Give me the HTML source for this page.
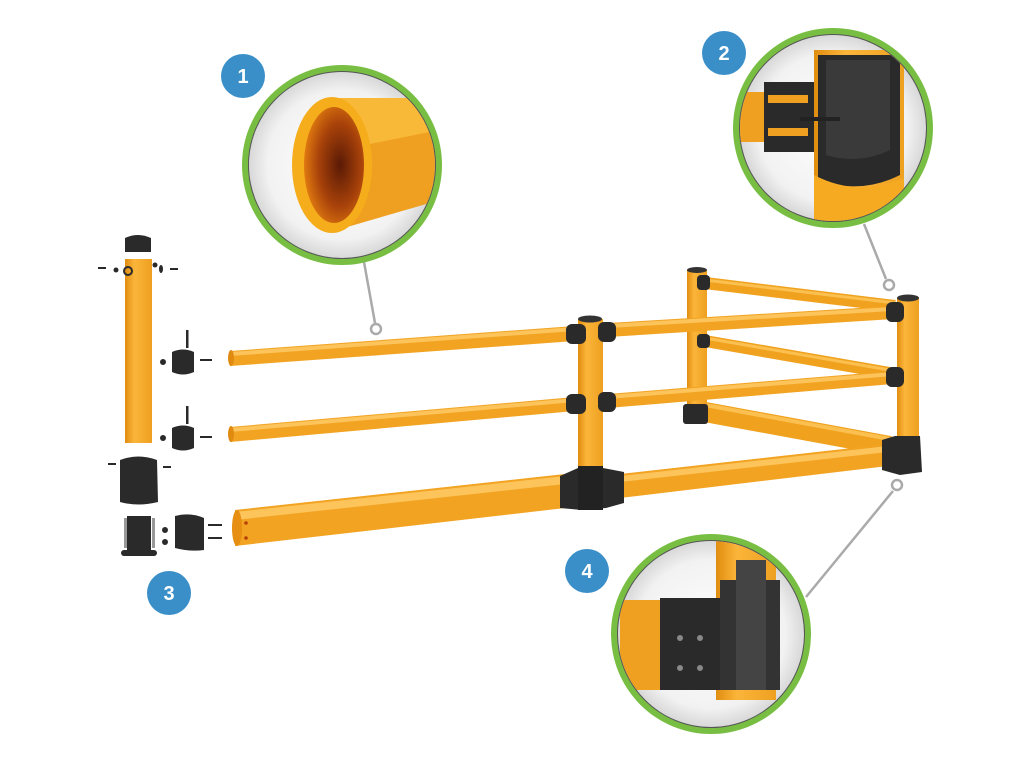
<!DOCTYPE html>
<html><head><meta charset="utf-8"><style>
html,body{margin:0;padding:0;background:#fff;width:1024px;height:768px;overflow:hidden}
svg{display:block}
text{font-family:"Liberation Sans",sans-serif;font-weight:bold;fill:#fff}
</style></head><body>
<svg width="1024" height="768" viewBox="0 0 1024 768" xmlns="http://www.w3.org/2000/svg">
<defs>
<linearGradient id="tv" x1="0" y1="0" x2="1" y2="0">
<stop offset="0" stop-color="#e08d10"/><stop offset="0.35" stop-color="#fbb53a"/><stop offset="1" stop-color="#eea020"/>
</linearGradient>
<radialGradient id="inner" cx="0.5" cy="0.5" r="0.5">
<stop offset="0" stop-color="#ffffff"/><stop offset="0.8" stop-color="#f2f2f2"/><stop offset="1" stop-color="#d8d8d8"/>
</radialGradient>
<radialGradient id="hole" cx="0.6" cy="0.5" r="0.6">
<stop offset="0" stop-color="#5a1a05"/><stop offset="0.6" stop-color="#a8420a"/><stop offset="1" stop-color="#e07a10"/>
</radialGradient>
<clipPath id="c1"><circle cx="342" cy="165" r="93"/></clipPath>
<clipPath id="c2"><circle cx="833" cy="128" r="93"/></clipPath>
<clipPath id="c4"><circle cx="711" cy="634" r="93"/></clipPath>
</defs>

<!-- leader lines -->
<g stroke="#aaa" stroke-width="2.5" fill="#fff">
<line x1="364" y1="262" x2="375" y2="323"/><circle cx="376" cy="329" r="5"/>
<line x1="864" y1="224" x2="886" y2="279"/><circle cx="889" cy="285" r="5"/>
<line x1="806" y1="597" x2="893" y2="491"/><circle cx="897" cy="485" r="5"/>
</g>

<!-- back rails -->
<g stroke-linecap="butt">
<line x1="705" y1="283" x2="895" y2="306" stroke="#f0a21e" stroke-width="12"/>
<line x1="705" y1="280" x2="895" y2="303" stroke="#fbc050" stroke-width="3"/>
<line x1="705" y1="341" x2="895" y2="374" stroke="#f0a21e" stroke-width="12"/>
<line x1="705" y1="338" x2="895" y2="371" stroke="#fbc050" stroke-width="3"/>
<line x1="705" y1="412" x2="890" y2="446" stroke="#f0a21e" stroke-width="20"/>
<line x1="705" y1="405" x2="890" y2="439" stroke="#fbc050" stroke-width="4"/>
</g>
<!-- back post -->
<rect x="687" y="270" width="20" height="150" fill="url(#tv)"/>
<ellipse cx="697" cy="270" rx="10" ry="3" fill="#333"/>
<rect x="697" y="275" width="13" height="15" rx="4" fill="#2a2a2a"/>
<rect x="697" y="334" width="13" height="14" rx="4" fill="#2a2a2a"/>
<rect x="683" y="404" width="25" height="20" rx="3" fill="#2a2a2a"/>

<!-- front rails -->
<g>
<polygon points="230,351 575,326 575,341 230,366" fill="#f2a322"/>
<polygon points="230,352 575,327 575,331 230,356" fill="#fcc45a"/>
<ellipse cx="231" cy="358" rx="3" ry="8" fill="#e08a10"/>
<polygon points="608,323 893,306 893,319 608,337" fill="#f2a322"/>
<polygon points="608,324 893,307 893,311 608,328" fill="#fcc45a"/>
<polygon points="230,427 575,397 575,411 230,442" fill="#f2a322"/>
<polygon points="230,428 575,398 575,402 230,432" fill="#fcc45a"/>
<ellipse cx="231" cy="434" rx="3" ry="8" fill="#e08a10"/>
<polygon points="608,394 893,371 893,384 608,408" fill="#f2a322"/>
<polygon points="608,395 893,372 893,376 608,399" fill="#fcc45a"/>
<!-- bottom big rail -->
<polygon points="235,510 565,474 565,508 235,546" fill="#f2a322"/>
<polygon points="235,512 565,476 565,484 235,520" fill="#fcc45a"/>
<ellipse cx="237" cy="528" rx="5" ry="18" fill="#e68f12"/>
<circle cx="246" cy="523" r="1.8" fill="#b5400a"/><circle cx="246" cy="538" r="1.8" fill="#b5400a"/>
<polygon points="620,474 888,444 888,466 620,498" fill="#f2a322"/>
<polygon points="620,476 888,446 888,452 620,482" fill="#fcc45a"/>
</g>
<!-- center post -->
<rect x="578" y="319" width="25" height="160" fill="url(#tv)"/>
<ellipse cx="590" cy="319" rx="12" ry="3.5" fill="#333"/>
<rect x="566" y="324" width="20" height="20" rx="6" fill="#2a2a2a"/>
<rect x="598" y="322" width="18" height="20" rx="6" fill="#2a2a2a"/>
<rect x="566" y="394" width="20" height="20" rx="6" fill="#2a2a2a"/>
<rect x="598" y="392" width="18" height="20" rx="6" fill="#2a2a2a"/>
<path d="M560,476 L578,468 L603,468 L624,472 L624,503 L606,508 L582,510 L560,508 Z" fill="#2a2a2a"/>
<rect x="578" y="466" width="25" height="44" fill="#222"/>
<!-- right post -->
<rect x="897" y="298" width="22" height="142" fill="url(#tv)"/>
<ellipse cx="908" cy="298" rx="11" ry="3.5" fill="#333"/>
<rect x="886" y="302" width="18" height="20" rx="6" fill="#2a2a2a"/>
<rect x="886" y="367" width="18" height="20" rx="6" fill="#2a2a2a"/>
<path d="M882,440 L895,436 L920,436 L922,472 L900,475 L882,470 Z" fill="#2a2a2a"/>

<!-- exploded left -->
<rect x="125" y="259" width="27" height="184" fill="url(#tv)"/>
<path d="M125,238 Q138,232 151,238 L151,252 L125,252 Z" fill="#2a2a2a"/>
<g fill="#2a2a2a">
<rect x="98" y="267" width="8" height="2"/><rect x="170" y="268" width="8" height="2"/>
<circle cx="116" cy="270" r="2.5"/><circle cx="128" cy="271" r="4" fill="none" stroke="#2a2a2a" stroke-width="2"/>
<circle cx="155" cy="265" r="2.5"/><ellipse cx="161" cy="269" rx="2" ry="4"/>
<path d="M172,352 Q183,347 194,352 L194,372 Q183,377 172,372 Z"/>
<rect x="186" y="330" width="2.5" height="18"/><rect x="200" y="359" width="12" height="2"/><circle cx="163" cy="362" r="3"/>
<path d="M172,428 Q183,423 194,428 L194,448 Q183,453 172,448 Z"/>
<rect x="186" y="406" width="2.5" height="18"/><rect x="200" y="436" width="12" height="2"/><circle cx="163" cy="438" r="3"/>
<path d="M120,460 Q138,453 157,460 L158,502 Q138,507 120,502 Z"/>
<rect x="108" y="463" width="8" height="2"/><rect x="163" y="466" width="8" height="2"/>
<rect x="127" y="516" width="24" height="36"/><rect x="121" y="550" width="36" height="6" rx="3"/>
<path d="M175,516 Q190,512 204,518 L204,550 Q190,552 175,548 Z"/>
<rect x="208" y="524" width="14" height="2"/><rect x="208" y="537" width="14" height="2"/>
<circle cx="165" cy="530" r="3"/><circle cx="165" cy="542" r="3"/>
</g>
<rect x="124" y="518" width="3" height="30" fill="#999"/><rect x="152" y="518" width="3" height="30" fill="#999"/>

<!-- circle 1 -->
<circle cx="342" cy="165" r="100" fill="#78be43"/>
<circle cx="342" cy="165" r="94" fill="#555"/>
<circle cx="342" cy="165" r="93" fill="url(#inner)"/>
<g clip-path="url(#c1)">
<polygon points="330,98 440,98 440,200 330,232" fill="#f0a020"/>
<polygon points="330,98 440,98 440,130 340,150" fill="#f8b838"/>
<ellipse cx="332" cy="165" rx="40" ry="68" fill="#f5ad1c"/>
<ellipse cx="334" cy="165" rx="30" ry="58" fill="url(#hole)"/>
</g>
<!-- circle 2 -->
<circle cx="833" cy="128" r="100" fill="#78be43"/>
<circle cx="833" cy="128" r="94" fill="#555"/>
<circle cx="833" cy="128" r="93" fill="url(#inner)"/>
<g clip-path="url(#c2)">
<rect x="730" y="92" width="40" height="50" fill="#f0a020"/>
<rect x="814" y="50" width="90" height="180" fill="url(#tv)"/>
<path d="M818,55 L900,55 L900,175 Q860,195 818,180 Z" fill="#2a2a2a"/>
<path d="M826,60 L890,60 L890,150 Q858,165 826,155 Z" fill="#3a3a3a"/>
<path d="M814,175 Q858,198 904,178 L904,230 L814,230 Z" fill="#f5aa22"/>
<rect x="764" y="82" width="50" height="70" fill="#2a2a2a"/>
<rect x="768" y="95" width="40" height="8" fill="#f0a020"/>
<rect x="768" y="128" width="40" height="8" fill="#f0a020"/>
<rect x="800" y="117" width="40" height="4" fill="#222"/>
</g>
<!-- circle 4 -->
<circle cx="711" cy="634" r="100" fill="#78be43"/>
<circle cx="711" cy="634" r="94" fill="#555"/>
<circle cx="711" cy="634" r="93" fill="url(#inner)"/>
<g clip-path="url(#c4)">
<rect x="716" y="540" width="60" height="160" fill="url(#tv)"/>
<rect x="620" y="600" width="80" height="90" fill="#f0a020"/>
<rect x="660" y="598" width="60" height="92" fill="#2a2a2a"/>
<rect x="720" y="580" width="60" height="110" fill="#333"/>
<rect x="736" y="560" width="30" height="130" fill="#444"/>
<circle cx="680" cy="638" r="3" fill="#888"/><circle cx="700" cy="638" r="3" fill="#888"/>
<circle cx="680" cy="668" r="3" fill="#888"/><circle cx="700" cy="668" r="3" fill="#888"/>
</g>

<!-- badges -->
<g fill="#3a8fc8">
<circle cx="243" cy="76" r="22"/><circle cx="724" cy="53" r="22"/>
<circle cx="169" cy="593" r="22"/><circle cx="587" cy="571" r="22"/>
</g>
<g font-size="20" text-anchor="middle">
<text x="243" y="83">1</text><text x="724" y="60">2</text>
<text x="169" y="600">3</text><text x="587" y="578">4</text>
</g>
</svg>
</body></html>
